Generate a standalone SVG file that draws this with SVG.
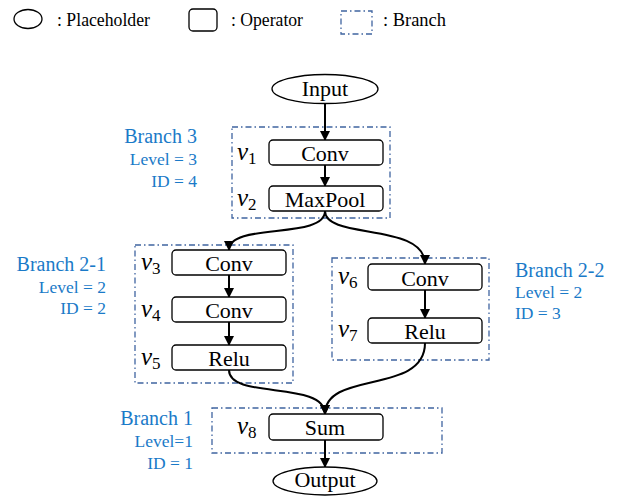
<svg xmlns="http://www.w3.org/2000/svg" width="618" height="498" viewBox="0 0 618 498">
<style>
.t{font-size:22px;fill:#000}
.lg{font-size:19px;fill:#000}
.op{fill:#fff;stroke:#000;stroke-width:1.3}
.br{fill:none;stroke:#3f64a0;stroke-width:1.3;stroke-dasharray:6,3,1.5,3}
.bn{font-size:20px;fill:#1a7ac8}
.bs{font-size:17.5px;fill:#1a7ac8}
.v{font-size:25px;font-style:italic;fill:#000}
.sub{font-style:normal;font-size:17px}
.c{fill:none;stroke:#000;stroke-width:2;marker-end:url(#ah)}
</style>
<defs>
<marker id="ah" viewBox="0 0 10 10" refX="9" refY="5" markerWidth="5" markerHeight="5" orient="auto" markerUnits="strokeWidth">
<path d="M0,0 L10,5 L0,10 z" fill="#000"/>
</marker>
</defs>
<rect width="618" height="498" fill="#fff"/>
<g id="legend">
<ellipse cx="28" cy="19" rx="14" ry="9.5" class="op"/>
<text x="57" y="26" class="lg" font-family="Liberation Serif" textLength="93" lengthAdjust="spacingAndGlyphs">: Placeholder</text>
<rect x="189" y="9" width="28" height="22" rx="4" class="op"/>
<text x="231" y="26" class="lg" font-family="Liberation Serif" textLength="72" lengthAdjust="spacingAndGlyphs">: Operator</text>
<rect x="341" y="11" width="31" height="23" class="br"/>
<text x="383" y="26" class="lg" font-family="Liberation Serif" textLength="63" lengthAdjust="spacingAndGlyphs">: Branch</text>
</g>
<g id="branch3">
<rect x="232" y="127" width="158" height="91" class="br"/>
<text x="197" y="143" class="bn" font-family="Liberation Serif" text-anchor="end">Branch 3</text>
<text x="197" y="165" class="bs" font-family="Liberation Serif" text-anchor="end">Level = 3</text>
<text x="197" y="187" class="bs" font-family="Liberation Serif" text-anchor="end">ID = 4</text>
</g>
<g id="branch2-1">
<rect x="135" y="245" width="158" height="138" class="br"/>
<text x="106" y="271" class="bn" font-family="Liberation Serif" text-anchor="end">Branch 2-1</text>
<text x="106" y="293" class="bs" font-family="Liberation Serif" text-anchor="end">Level = 2</text>
<text x="106" y="314" class="bs" font-family="Liberation Serif" text-anchor="end">ID = 2</text>
</g>
<g id="branch2-2">
<rect x="332" y="258" width="157" height="102" class="br"/>
<text x="515" y="277" class="bn" font-family="Liberation Serif">Branch 2-2</text>
<text x="515" y="298" class="bs" font-family="Liberation Serif">Level = 2</text>
<text x="515" y="319" class="bs" font-family="Liberation Serif">ID = 3</text>
</g>
<g id="branch1">
<rect x="212" y="408" width="230" height="45" class="br"/>
<text x="193" y="425" class="bn" font-family="Liberation Serif" text-anchor="end">Branch 1</text>
<text x="193" y="447" class="bs" font-family="Liberation Serif" text-anchor="end">Level=1</text>
<text x="193" y="469" class="bs" font-family="Liberation Serif" text-anchor="end">ID = 1</text>
</g>
<g id="connectors">
<path d="M325,103 L325,140" class="c"/>
<path d="M325,165 L325,186" class="c"/>
<path d="M325,211 C325,240 229,222 229,250" class="c"/>
<path d="M325,211 C325,240 425,222 425,264" class="c"/>
<path d="M229,275 L229,297" class="c"/>
<path d="M229,322 L229,345" class="c"/>
<path d="M425,290 L425,318" class="c"/>
<path d="M229,370 C229,400 325,380 325,414" class="c"/>
<path d="M425,343 C425,395 325,370 325,414" class="c"/>
<path d="M325,440 L325,467" class="c"/>
</g>
<g id="input">
<ellipse cx="325" cy="89" rx="53" ry="14.5" class="op"/>
<text x="325" y="96" class="t" font-family="Liberation Serif" text-anchor="middle">Input</text>
</g>
<g id="v1">
<rect x="269" y="140" width="114" height="25" rx="4" class="op"/>
<text x="325" y="161" class="t" font-family="Liberation Serif" text-anchor="middle">Conv</text>
<text x="237" y="160" class="v" font-family="Liberation Serif">v<tspan class="sub" dy="4">1</tspan></text>
</g>
<g id="v2">
<rect x="269" y="186" width="114" height="25" rx="4" class="op"/>
<text x="325" y="207" class="t" font-family="Liberation Serif" text-anchor="middle">MaxPool</text>
<text x="237" y="206" class="v" font-family="Liberation Serif">v<tspan class="sub" dy="4">2</tspan></text>
</g>
<g id="v3">
<rect x="172" y="250" width="114" height="25" rx="4" class="op"/>
<text x="229" y="271" class="t" font-family="Liberation Serif" text-anchor="middle">Conv</text>
<text x="141" y="270" class="v" font-family="Liberation Serif">v<tspan class="sub" dy="4">3</tspan></text>
</g>
<g id="v4">
<rect x="172" y="297" width="114" height="25" rx="4" class="op"/>
<text x="229" y="318" class="t" font-family="Liberation Serif" text-anchor="middle">Conv</text>
<text x="141" y="317" class="v" font-family="Liberation Serif">v<tspan class="sub" dy="4">4</tspan></text>
</g>
<g id="v5">
<rect x="172" y="345" width="114" height="25" rx="4" class="op"/>
<text x="229" y="366" class="t" font-family="Liberation Serif" text-anchor="middle">Relu</text>
<text x="141" y="365" class="v" font-family="Liberation Serif">v<tspan class="sub" dy="4">5</tspan></text>
</g>
<g id="v6">
<rect x="368" y="264" width="114" height="26" rx="4" class="op"/>
<text x="425" y="286" class="t" font-family="Liberation Serif" text-anchor="middle">Conv</text>
<text x="338" y="284" class="v" font-family="Liberation Serif">v<tspan class="sub" dy="4">6</tspan></text>
</g>
<g id="v7">
<rect x="368" y="318" width="114" height="25" rx="4" class="op"/>
<text x="425" y="339" class="t" font-family="Liberation Serif" text-anchor="middle">Relu</text>
<text x="338" y="337" class="v" font-family="Liberation Serif">v<tspan class="sub" dy="4">7</tspan></text>
</g>
<g id="v8">
<rect x="269" y="414" width="114" height="26" rx="4" class="op"/>
<text x="325" y="435" class="t" font-family="Liberation Serif" text-anchor="middle">Sum</text>
<text x="237" y="434" class="v" font-family="Liberation Serif">v<tspan class="sub" dy="4">8</tspan></text>
</g>
<g id="output">
<ellipse cx="325" cy="481" rx="52" ry="14" class="op"/>
<text x="325" y="487" class="t" font-family="Liberation Serif" text-anchor="middle">Output</text>
</g>
</svg>
